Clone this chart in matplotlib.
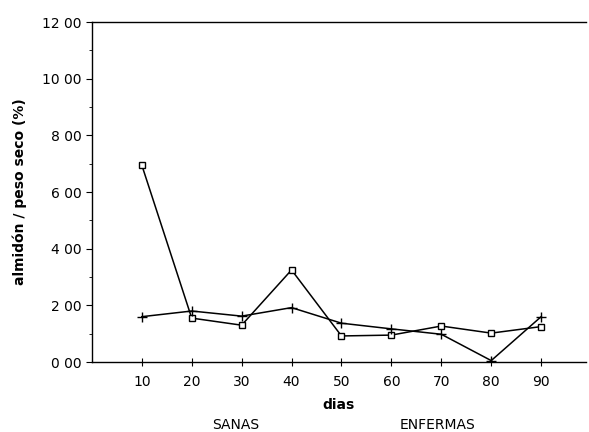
import matplotlib.pyplot as plt
from matplotlib.ticker import FuncFormatter, MultipleLocator

# Data
dias = [10, 20, 30, 40, 50, 60, 70, 80, 90]
serie_cuadros = [6.95, 1.55, 1.30, 3.25, 0.92, 0.95, 1.27, 1.02, 1.25]
serie_cruces = [1.60, 1.80, 1.62, 1.92, 1.37, 1.17, 0.98, 0.05, 1.60]

plt.rcParams["font.family"] = ["DejaVu Sans"]

fig = plt.figure(figsize=(5.89, 4.32), dpi=100)
ax = fig.add_axes([0.156, 0.162, 0.839, 0.787])

ax.plot(dias, serie_cuadros, color="black", lw=1.1, marker="s", ms=4.5,
        mfc="white", mec="black", mew=1.0)
ax.plot(dias, serie_cruces, color="black", lw=1.1, marker="+", ms=7, mew=1.0)

ax.set_xlim(0, 99)
ax.set_ylim(0, 12)
ax.set_xticks(dias)
ax.yaxis.set_major_locator(MultipleLocator(2))
ax.yaxis.set_minor_locator(MultipleLocator(1))
ax.yaxis.set_major_formatter(FuncFormatter(lambda v, p: f"{int(v)} 00"))

ax.spines["right"].set_visible(False)
for s in ["left", "bottom", "top"]:
    ax.spines[s].set_linewidth(1.0)
ax.tick_params(axis="y", which="major", direction="out", length=4, labelsize=10)
ax.tick_params(axis="y", which="minor", direction="out", length=2)
ax.tick_params(axis="x", direction="inout", length=6, labelsize=10, pad=6)

ax.set_ylabel("almidón / peso seco (%)", fontsize=10, fontweight="bold", labelpad=11)
ax.set_xlabel("dias", fontsize=10, fontweight="bold", labelpad=7)

fig.text(0.40, 0.008, "SANAS", fontsize=10, ha="center")
fig.text(0.742, 0.008, "ENFERMAS", fontsize=10, ha="center")

fig.savefig("out.png", dpi=100)
